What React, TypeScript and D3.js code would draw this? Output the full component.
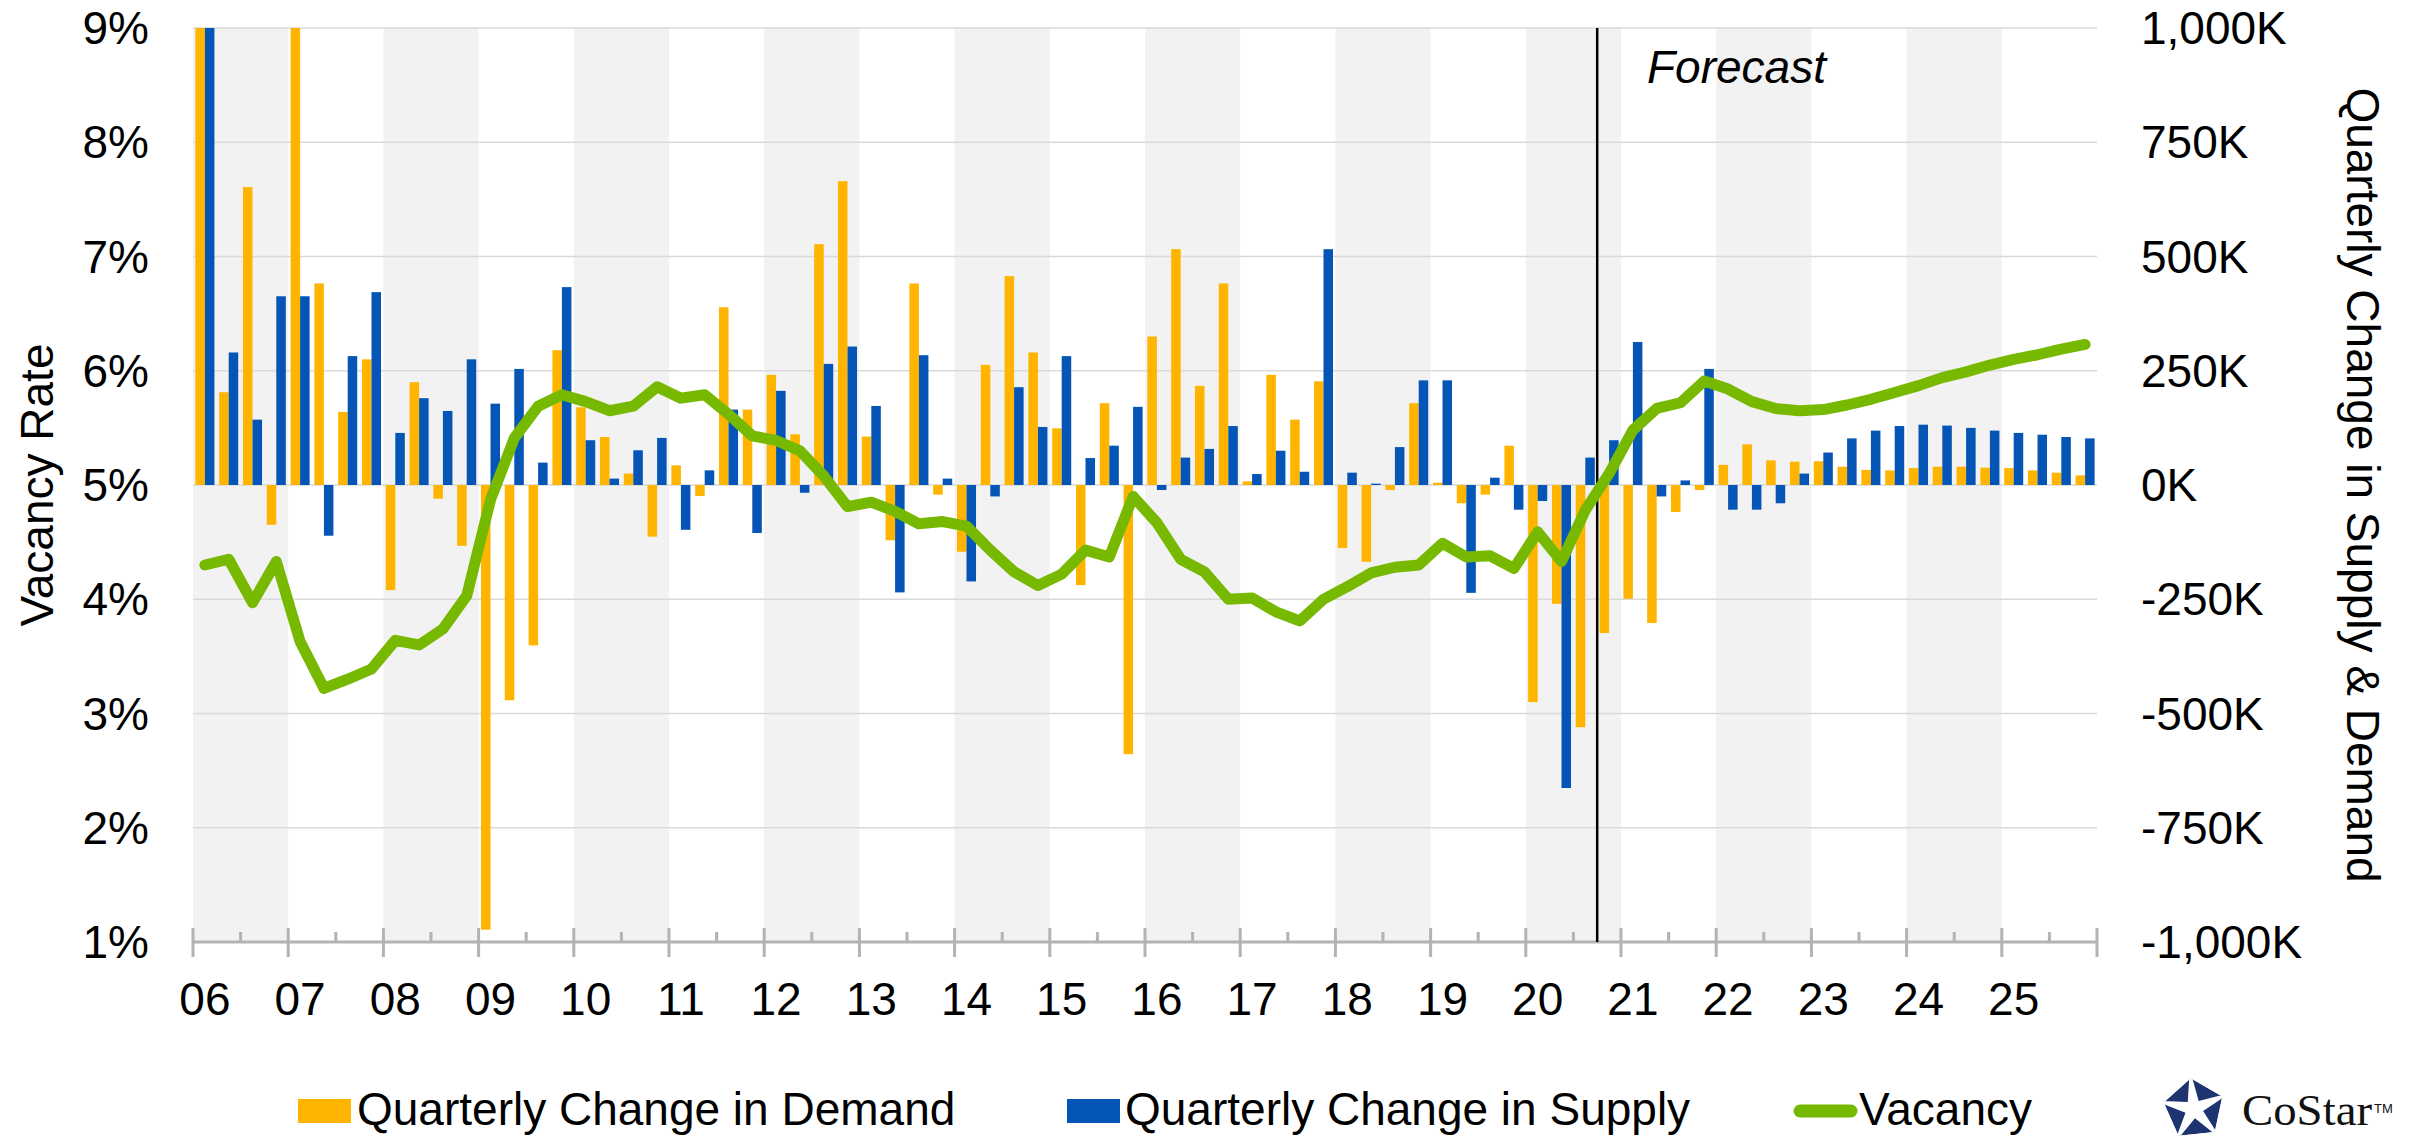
import React from 'react';
import * as d3 from 'd3';

const years = ['06','07','08','09','10','11','12','13','14','15','16','17','18','19','20','21','22','23','24','25'];
const quarterNames = ['Q1','Q2','Q3','Q4'];
const quarters = years.flatMap((y) => quarterNames.map((q) => `${y}${q}`));

// Quarterly change in demand (K SF)
const demand = [
  1060, 203, 652, -87, 1040, 441, 160, 275, -230, 225, -30, -133,
  -973, -471, -351, 295, 170, 105, 25, -113, 43, -24, 389, 165,
  241, 111, 527, 665, 106, -121, 441, -21, -146, 263, 457, 290,
  124, -219, 179, -589, 325, 516, 217, 441, 8, 241, 143, 227,
  -138, -168, -11, 179, 5, -40, -21, 86, -475, -260, -530, -324,
  -249, -302, -59, -11, 44, 89, 54, 51, 52, 40, 33, 32,
  37, 40, 40, 38, 37, 32, 27, 21,
];

// Quarterly change in supply (K SF)
const supply = [
  1030, 290, 143, 413, 413, -111, 282, 422, 114, 190, 162, 275,
  178, 254, 49, 433, 98, 14, 76, 103, -98, 32, 165, -105,
  206, -17, 265, 303, 173, -235, 284, 14, -211, -25, 214, 127,
  282, 59, 86, 171, -11, 60, 79, 129, 24, 75, 29, 516,
  27, 3, 83, 229, 229, -236, 16, -54, -35, -663, 60, 98,
  313, -25, 10, 254, -54, -54, -40, 25, 71, 102, 119, 129,
  132, 130, 125, 119, 114, 110, 105, 102,
];

// Vacancy rate (%)
const vacancy = [
  4.30, 4.35, 3.97, 4.33, 3.63, 3.22, 3.30, 3.39, 3.64, 3.60, 3.74, 4.03,
  4.87, 5.41, 5.69, 5.79, 5.73, 5.65, 5.69, 5.86, 5.76, 5.79, 5.62, 5.43,
  5.39, 5.30, 5.08, 4.81, 4.85, 4.77, 4.66, 4.68, 4.64, 4.43, 4.24, 4.12,
  4.22, 4.43, 4.37, 4.90, 4.67, 4.35, 4.24, 4.00, 4.01, 3.89, 3.81, 4.00,
  4.11, 4.23, 4.28, 4.30, 4.49, 4.37, 4.38, 4.27, 4.59, 4.33, 4.78, 5.10,
  5.48, 5.67, 5.72, 5.91, 5.84, 5.73, 5.67, 5.65, 5.66, 5.70, 5.75, 5.81,
  5.87, 5.94, 5.99, 6.05, 6.10, 6.14, 6.19, 6.23,
];

const leftTicks = [1, 2, 3, 4, 5, 6, 7, 8, 9];
const rightTicks = [-1000, -750, -500, -250, 0, 250, 500, 750, 1000];
const forecastStart = '20Q4';

const ORANGE = '#FFB500';
const BLUE = '#0455B6';
const GREEN = '#76B900';
const FONT = '"Liberation Sans", Arial, Helvetica, sans-serif';

const locale = d3.formatLocale({ decimal: '.', thousands: ',', grouping: [3], currency: ['$', ''], minus: '-' });
const fmtComma = locale.format(',');

export default function App() {
  const W = 2418;
  const H = 1136;
  const L = 193, R = 2097, T = 28, B = 942;

  const x = d3.scaleBand<string>().domain(quarters).range([L, R]).paddingInner(0.2).paddingOuter(0.1);
  const xi = d3.scaleLinear().domain([0, quarters.length]).range([L, R]);
  const x1 = d3.scaleBand<string>().domain(['demand', 'supply']).range([0, x.bandwidth()]);
  const yV = d3.scaleLinear().domain([1, 9]).range([B, T]);
  const yK = d3.scaleLinear().domain([-1000, 1000]).range([B, T]);

  const fmtK = (v: number) => `${fmtComma(v)}K`;

  const line = d3
    .line<number>()
    .x((_, i) => (x(quarters[i]) as number) + x.bandwidth() / 2)
    .y((d) => yV(d));

  const fi = quarters.indexOf(forecastStart);

  // logo star
  const cx = 2194, cy = 1109, pr = 31;
  const rot = -96;
  const pent = d3.range(5).map((k) => {
    const a = ((rot + k * 72) * Math.PI) / 180;
    return [cx + pr * Math.cos(a), cy + pr * Math.sin(a)];
  });
  const star = d3.range(10).map((k) => {
    const a = ((rot + k * 36) * Math.PI) / 180;
    const r = k % 2 === 0 ? pr * 1.3 : pr * 0.3;
    return [cx + r * Math.cos(a), cy + r * Math.sin(a)];
  });

  return (
    <svg
      width={W}
      height={H}
      style={{ position: 'absolute', left: 0, top: 0, background: '#fff' }}
      fontFamily={FONT}
    >
      <defs>
        <clipPath id="plotClip">
          <rect x={L} y={T} width={R - L} height={B - T} />
        </clipPath>
        <clipPath id="pentClip">
          <polygon points={pent.map((p) => p.join(',')).join(' ')} />
        </clipPath>
      </defs>
      <rect x={0} y={0} width={W} height={H} fill="#fff" />

      {/* alternating year bands */}
      {years.map((yr, k) =>
        k % 2 === 0 ? (
          <rect key={`band-${yr}`} x={xi(k * 4)} y={T} width={xi(k * 4 + 4) - xi(k * 4)} height={B - T} fill="#F2F2F2" />
        ) : null
      )}

      {/* gridlines */}
      {leftTicks.map((t) => (
        <line key={`g-${t}`} x1={L} x2={R} y1={yV(t)} y2={yV(t)} stroke="#D9D9D9" strokeWidth={1.5} />
      ))}

      {/* bars */}
      <g clipPath="url(#plotClip)">
        {quarters.map((q, i) => {
          const d = demand[i];
          const s = supply[i];
          const x0 = x(q) as number;
          return (
            <g key={`bar-${q}`}>
              <rect
                x={x0 + (x1('demand') as number)}
                y={yK(Math.max(0, d))}
                width={x1.bandwidth()}
                height={Math.abs(yK(d) - yK(0))}
                fill={ORANGE}
              />
              <rect
                x={x0 + (x1('supply') as number)}
                y={yK(Math.max(0, s))}
                width={x1.bandwidth()}
                height={Math.abs(yK(s) - yK(0))}
                fill={BLUE}
              />
            </g>
          );
        })}
      </g>

      {/* x axis */}
      <line x1={L} x2={R} y1={B} y2={B} stroke="#B3B3B3" strokeWidth={3} />
      {d3.range(0, quarters.length + 1, 2).map((k) => (
        <line
          key={`t-${k}`}
          x1={xi(k)}
          x2={xi(k)}
          y1={k % 4 === 0 ? B - 14 : B - 10}
          y2={k % 4 === 0 ? B + 15 : B}
          stroke="#B3B3B3"
          strokeWidth={3}
        />
      ))}
      {years.map((yr, k) => (
        <text
          key={`xl-${yr}`}
          x={(x(quarters[k * 4]) as number) + x.bandwidth() / 2}
          y={1015}
          textAnchor="middle"
          fontSize={46}
          fill="#000"
        >
          {yr}
        </text>
      ))}

      {/* forecast divider */}
      <line x1={xi(fi)} x2={xi(fi)} y1={T} y2={B} stroke="#000" strokeWidth={2.5} />
      <text x={1647} y={83} fontSize={46} fontStyle="italic" fill="#000">
        Forecast
      </text>

      {/* vacancy line */}
      <path
        d={line(vacancy) || ''}
        fill="none"
        stroke={GREEN}
        strokeWidth={11}
        strokeLinejoin="round"
        strokeLinecap="round"
      />

      {/* left axis labels */}
      {leftTicks.map((t) => (
        <text key={`yl-${t}`} x={149} y={yV(t)} dy="0.35em" textAnchor="end" fontSize={46} fill="#000">
          {`${t}%`}
        </text>
      ))}
      <text
        transform={`translate(37,${(T + B) / 2}) rotate(-90)`}
        textAnchor="middle"
        dy="0.35em"
        fontSize={46}
        fill="#000"
      >
        Vacancy Rate
      </text>

      {/* right axis labels */}
      {rightTicks.map((t) => (
        <text key={`yr-${t}`} x={2141} y={yK(t)} dy="0.35em" textAnchor="start" fontSize={46} fill="#000">
          {fmtK(t)}
        </text>
      ))}
      <text
        transform={`translate(2363,${(T + B) / 2}) rotate(90)`}
        textAnchor="middle"
        dy="0.35em"
        fontSize={46}
        fill="#000"
      >
        Quarterly Change in Supply &amp; Demand
      </text>

      {/* legend */}
      <rect x={298} y={1099} width={53} height={24} fill={ORANGE} />
      <text x={357} y={1125} fontSize={46} fill="#000">Quarterly Change in Demand</text>
      <rect x={1067} y={1099} width={53} height={24} fill={BLUE} />
      <text x={1125} y={1125} fontSize={46} fill="#000">Quarterly Change in Supply</text>
      <line x1={1800} x2={1851} y1={1111} y2={1111} stroke={GREEN} strokeWidth={13} strokeLinecap="round" />
      <text x={1859} y={1125} fontSize={46} fill="#000">Vacancy</text>

      {/* CoStar logo */}
      <g clipPath="url(#pentClip)">
        <polygon points={pent.map((p) => p.join(',')).join(' ')} fill="#1D3471" />
        <polygon points={star.map((p) => p.join(',')).join(' ')} fill="#fff" />
      </g>
      <text
        x={2242}
        y={1125}
        fontSize={44}
        fontFamily='"Liberation Serif", "DejaVu Serif", serif'
        fill="#111"
        textLength={130}
        lengthAdjust="spacingAndGlyphs"
      >
        CoStar
      </text>
      <text x={2374} y={1113} fontSize={13} fontFamily={FONT} fill="#111">
        TM
      </text>
    </svg>
  );
}
